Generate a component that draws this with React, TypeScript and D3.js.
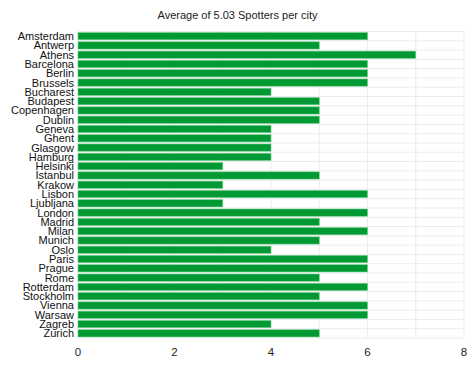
import React from "react";
import * as d3 from "d3";

const cities = ["Amsterdam","Antwerp","Athens","Barcelona","Berlin","Brussels","Bucharest","Budapest","Copenhagen","Dublin","Geneva","Ghent","Glasgow","Hamburg","Helsinki","Istanbul","Krakow","Lisbon","Ljubljana","London","Madrid","Milan","Munich","Oslo","Paris","Prague","Rome","Rotterdam","Stockholm","Vienna","Warsaw","Zagreb","Zurich"];
const spotters = [6,5,7,6,6,6,4,5,5,5,4,4,4,4,3,5,3,6,3,6,5,6,5,4,6,6,5,6,5,6,6,4,5];
const xTicks = [0,2,4,6,8];
const gridTicks = [0,1,2,3,4,5,6,7,8];
const title = "Average of 5.03 Spotters per city";

export default function App() {
  const W = 475, H = 366;
  const left = 78, right = 464, top = 31.5, bottom = 338;
  const x = d3.scaleLinear().domain([0, 8]).range([left, right]);
  const y = d3.scaleBand<string>().domain(cities).range([top, bottom]).paddingInner(0.22).paddingOuter(0.11);
  const step = y.step();
  const font = "'Liberation Sans', Arial, sans-serif";
  return (
    <svg width={W} height={H} style={{ position: "absolute", left: 0, top: 0, background: "#fff" }}>
      <text x={W / 2} y={19} textAnchor="middle" fontFamily={font} fontSize={11} fill="#222">{title}</text>
      {gridTicks.map(t => (
        <line key={"g" + t} x1={x(t)} x2={x(t)} y1={top} y2={bottom} stroke="#ececec" strokeWidth={1} />
      ))}
      {cities.map((c, i) => (
        <line key={"h" + c} x1={left} x2={right} y1={top + i * step} y2={top + i * step} stroke="#ececec" strokeWidth={1} />
      ))}
      <line x1={left} x2={right} y1={bottom} y2={bottom} stroke="#ececec" strokeWidth={1} />
      {cities.map((c, i) => (
        <rect key={"b" + c} x={x(0)} y={y(c)!} width={x(spotters[i]) - x(0)} height={y.bandwidth()}
          fill="#009933" stroke="#6fd08a" strokeWidth={0.6} />
      ))}
      {cities.map(c => (
        <text key={"l" + c} x={left - 4} y={y(c)! + y.bandwidth() / 2} dy="0.36em" textAnchor="end"
          fontFamily={font} fontSize={11} fill="#111">{c}</text>
      ))}
      {xTicks.map(t => (
        <text key={"t" + t} x={x(t)} y={356} textAnchor="middle" fontFamily={font} fontSize={11.5} fill="#222">{t}</text>
      ))}
    </svg>
  );
}
